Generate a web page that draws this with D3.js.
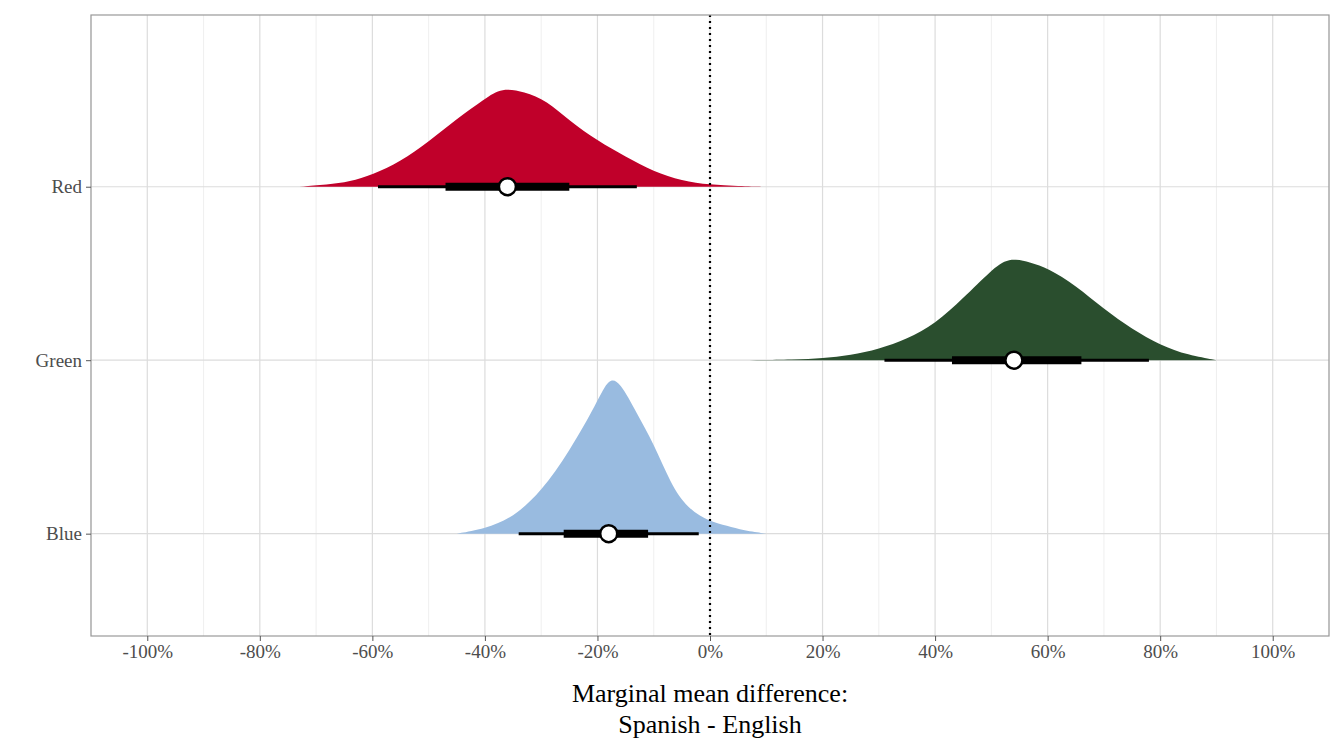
<!DOCTYPE html>
<html><head><meta charset="utf-8">
<script src="https://cdn.jsdelivr.net/npm/d3@7"></script>
<style>body{margin:0;background:#fff}</style>
</head><body>
<script>
// categories, bottom to top
var categories = ["Blue", "Green", "Red"];
var colors = ["#99BBE0", "#2A4E2E", "#C0002A"];
var xTicks = [-100, -80, -60, -40, -20, 0, 20, 40, 60, 80, 100];

// density outlines (x in %, relative height)
var redX = [-73, -68, -64, -60, -55, -50, -45, -40, -37, -33, -29, -25, -20, -15, -10, -5, 0, 5, 10];
var redD = [0, 2, 5, 12, 25, 45, 68, 88, 99, 95, 86, 66, 46, 30, 15, 6, 2, 0.6, 0];
var greenX = [7, 15, 20, 25, 30, 35, 40, 45, 50, 53, 57, 60, 65, 70, 75, 80, 85, 90];
var greenD = [0, 0.5, 2, 5, 11, 21, 36, 62, 90, 103, 98, 92, 75, 51, 31, 15, 5, 0];
var blueX = [-45, -40, -35, -30, -25, -20, -18, -16, -13, -10, -7, -4, 0, 3, 6, 10];
var blueD = [0, 5, 16, 42, 82, 132, 156, 152, 120, 90, 50, 25, 12, 8, 3, 0];

// point intervals: [thin lo, thick lo, median, thick hi, thin hi]
var redInt = [-59, -47, -36, -25, -13];
var greenInt = [31, 43, 54, 66, 78];
var blueInt = [-34, -26, -18, -11, -2];

var dens = [
  {x: blueX, d: blueD, iv: blueInt},
  {x: greenX, d: greenD, iv: greenInt},
  {x: redX, d: redD, iv: redInt}
];

var W = 1344, H = 756;
var m = {left: 91, right: 15, top: 15, bottom: 120};

var svg = d3.select("body").append("svg").attr("width", W).attr("height", H)
  .style("font-family", "'Liberation Serif', serif");

var x = d3.scaleLinear().domain([-110, 110]).range([m.left, W - m.right]);
var y = d3.scaleLinear().domain([0.41, 3.99]).range([H - m.bottom, m.top]);
var h = d3.scaleLinear().domain([0, 173.5]).range([0, 1]);

// grid
var minor = d3.range(-110, 111, 10).filter(function(v){ return v % 20 !== 0; });
svg.selectAll(".minor").data(minor).enter().append("line")
  .attr("x1", x).attr("x2", x).attr("y1", m.top).attr("y2", H - m.bottom)
  .attr("stroke", "#ebebeb").attr("stroke-width", 0.8);
svg.selectAll(".major").data(xTicks).enter().append("line")
  .attr("x1", x).attr("x2", x).attr("y1", m.top).attr("y2", H - m.bottom)
  .attr("stroke", "#dcdcdc").attr("stroke-width", 1.2);
svg.selectAll(".hg").data(categories).enter().append("line")
  .attr("x1", m.left).attr("x2", W - m.right)
  .attr("y1", function(d, i){ return y(i + 1); }).attr("y2", function(d, i){ return y(i + 1); })
  .attr("stroke", "#dcdcdc").attr("stroke-width", 1.2);

// densities
dens.forEach(function(s, i) {
  var pts = s.x.map(function(v, j){ return [v, s.d[j]]; });
  var area = d3.area().curve(d3.curveBasis)
    .x(function(p){ return x(p[0]); })
    .y0(y(i + 1))
    .y1(function(p){ return y(i + 1 + h(p[1])); });
  svg.append("path").datum(pts).attr("d", area).attr("fill", colors[i]);
});

// zero line
svg.append("line").attr("x1", x(0)).attr("x2", x(0)).attr("y1", m.top).attr("y2", H - m.bottom)
  .attr("stroke", "#000").attr("stroke-width", 2.2).attr("stroke-dasharray", "2,4");

// intervals
dens.forEach(function(s, i) {
  var yy = y(i + 1);
  svg.append("line").attr("x1", x(s.iv[0])).attr("x2", x(s.iv[4])).attr("y1", yy).attr("y2", yy)
    .attr("stroke", "#000").attr("stroke-width", 3);
  svg.append("line").attr("x1", x(s.iv[1])).attr("x2", x(s.iv[3])).attr("y1", yy).attr("y2", yy)
    .attr("stroke", "#000").attr("stroke-width", 8);
  svg.append("circle").attr("cx", x(s.iv[2])).attr("cy", yy).attr("r", 8.5)
    .attr("fill", "#fff").attr("stroke", "#000").attr("stroke-width", 2.5);
});

// panel border
svg.append("rect").attr("x", m.left).attr("y", m.top)
  .attr("width", W - m.left - m.right).attr("height", H - m.top - m.bottom)
  .attr("fill", "none").attr("stroke", "#999").attr("stroke-width", 1.2);

// axes
var xAxis = svg.append("g").attr("transform", "translate(0," + (H - m.bottom) + ")")
  .call(d3.axisBottom(x).tickValues(xTicks).tickSize(5).tickPadding(4)
    .tickFormat(function(d){ return d + "%"; }));
xAxis.select(".domain").remove();
xAxis.selectAll("line").attr("stroke", "#555");
xAxis.selectAll("text").attr("font-size", 19).attr("fill", "#4d4d4d").attr("font-family", "'Liberation Serif', serif");

var yAxis = svg.append("g").attr("transform", "translate(" + m.left + ",0)")
  .call(d3.axisLeft(y).tickValues([1, 2, 3]).tickSize(5).tickPadding(4)
    .tickFormat(function(d){ return categories[d - 1]; }));
yAxis.select(".domain").remove();
yAxis.selectAll("line").attr("stroke", "#555");
yAxis.selectAll("text").attr("font-size", 19).attr("fill", "#4d4d4d").attr("font-family", "'Liberation Serif', serif");

svg.append("text").attr("x", x(0)).attr("y", 702).attr("text-anchor", "middle")
  .attr("font-size", 26).text("Marginal mean difference:");
svg.append("text").attr("x", x(0)).attr("y", 733).attr("text-anchor", "middle")
  .attr("font-size", 26).text("Spanish - English");
</script>
</body></html>
